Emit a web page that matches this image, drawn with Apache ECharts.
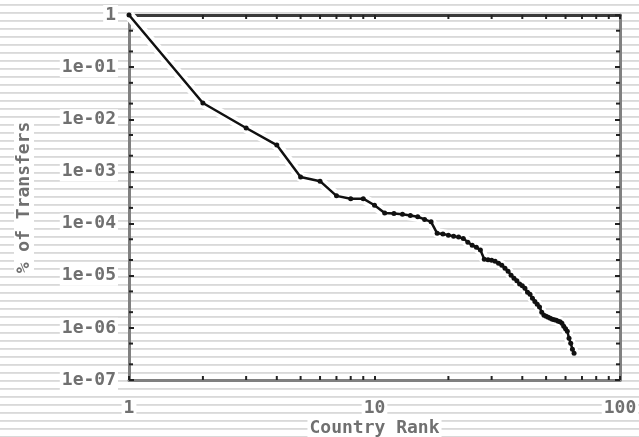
<!DOCTYPE html>
<html>
<head>
<meta charset="utf-8">
<script src="https://cdn.jsdelivr.net/npm/echarts@6/dist/echarts.min.js"></script>
<style>
  html, body { margin: 0; padding: 0; }
  body {
    background: repeating-linear-gradient(to bottom,
      #ffffff 0px, #ffffff 4px, #d6d6d6 4px, #e2e2e2 6px, #ffffff 6px, #ffffff 8px);
  }
  #chart { width: 639px; height: 437px; }
</style>
</head>
<body>
<div id="chart"></div>
<script>
// country rank vs share of transfers
var ranks = [];
for (var i = 1; i <= 65; i++) ranks.push(i);

var transfers = [
  1, 2.05e-2, 6.8e-3, 3.2e-3, 7.8e-4, 6.5e-4, 3.4e-4, 3.0e-4, 3.0e-4, 2.25e-4,
  1.6e-4, 1.56e-4, 1.51e-4, 1.43e-4, 1.35e-4, 1.2e-4, 1.08e-4, 6.5e-5, 6.3e-5, 6.0e-5,
  5.7e-5, 5.5e-5, 5.2e-5, 4.4e-5, 3.85e-5, 3.5e-5, 3.1e-5, 2.07e-5, 2.03e-5, 1.99e-5,
  1.9e-5, 1.74e-5, 1.59e-5, 1.39e-5, 1.22e-5, 1.02e-5, 8.95e-6, 8.0e-6, 6.9e-6, 6.4e-6,
  5.75e-6, 4.8e-6, 4.4e-6, 3.7e-6, 3.2e-6, 2.84e-6, 2.5e-6, 1.99e-6, 1.75e-6, 1.67e-6,
  1.6e-6, 1.53e-6, 1.46e-6, 1.43e-6, 1.4e-6, 1.34e-6, 1.31e-6, 1.22e-6, 1.07e-6, 9.6e-7,
  8.6e-7, 6.3e-7, 5.06e-7, 3.9e-7, 3.25e-7
];

// minor ticks (2..9 on x, 2 and 5 per decade on y)
var xMinorTicks = [2, 3, 4, 5, 6, 7, 8, 9, 20, 30, 40, 50, 60, 70, 80, 90];
var yMinorTicks = [5e-1, 2e-1, 5e-2, 2e-2, 5e-3, 2e-3, 5e-4, 2e-4, 5e-5, 2e-5, 5e-6, 2e-6, 5e-7, 2e-7];

var lineData = ranks.map(function (r, i) { return [r, transfers[i]]; });

var fontFamily = "'DejaVu Sans Mono', monospace";
var textColor = '#707070';
var textStyle = { color: textColor, fontFamily: fontFamily, fontSize: 18, fontWeight: 'bold', backgroundColor: '#fff', padding: [1, 2] };

var chart = echarts.init(document.getElementById('chart'));

function yLabel(v) {
  var n = Math.round(-Math.log10(v));
  if (n === 0) return '1';
  return '1e-0' + n;
}

var option = {
  backgroundColor: 'transparent',
  animation: false,
  grid: { left: 129, right: 19, top: 15, bottom: 57, outerBoundsMode: 'none', containLabel: false },
  xAxis: [
    {
      type: 'log', logBase: 10, min: 1, max: 100, splitNumber: 2,
      name: 'Country Rank', nameLocation: 'middle', nameGap: 38, nameMoveOverlap: false,
      nameTextStyle: textStyle,
      axisLine: { lineStyle: { color: '#808080', width: 3 } },
      axisTick: { inside: true, length: 4, lineStyle: { color: '#222', width: 2 } },
      axisLabel: Object.assign({}, textStyle, {
        margin: 18,
        formatter: function (v) { return String(Math.round(v)); }
      }),
      splitLine: { show: false }
    },
    {
      type: 'log', logBase: 10, min: 1, max: 100, splitNumber: 2, position: 'top',
      axisLine: { lineStyle: { color: '#3a3a3a', width: 3 } },
      axisTick: { inside: true, length: 4, lineStyle: { color: '#222', width: 2 } },
      axisLabel: { show: false },
      splitLine: { show: false }
    }
  ],
  yAxis: [
    {
      type: 'log', logBase: 10, min: 1e-7, max: 1, splitNumber: 7,
      name: '% of Transfers', nameLocation: 'middle', nameGap: 95, nameRotate: 90, nameMoveOverlap: false,
      nameTextStyle: textStyle,
      axisLine: { lineStyle: { color: '#808080', width: 3 } },
      axisTick: { inside: true, length: 5, lineStyle: { color: '#222', width: 2 } },
      axisLabel: Object.assign({}, textStyle, { margin: 11, formatter: yLabel }),
      splitLine: { show: false }
    },
    {
      type: 'log', logBase: 10, min: 1e-7, max: 1, splitNumber: 7, position: 'right',
      axisLine: { lineStyle: { color: '#808080', width: 3 } },
      axisTick: { inside: true, length: 5, lineStyle: { color: '#222', width: 2 } },
      axisLabel: { show: false },
      splitLine: { show: false }
    }
  ],
  series: [
    {
      // white halo around the curve
      type: 'line', data: lineData, silent: true,
      showSymbol: false, symbol: 'none',
      lineStyle: { color: '#ffffff', width: 10, opacity: 1 },
      z: 1
    },
    {
      type: 'line', data: lineData,
      symbol: 'circle', symbolSize: 5, showSymbol: true,
      itemStyle: { color: '#111' },
      lineStyle: { color: '#111', width: 2.5 },
      z: 3
    },
    {
      type: 'custom', data: xMinorTicks, clip: false, silent: true, z: 4,
      renderItem: function (params, api) {
        var cs = params.coordSys;
        var x = api.coord([api.value(0), 1])[0];
        return {
          type: 'group',
          children: [
            { type: 'line', shape: { x1: x, y1: cs.y, x2: x, y2: cs.y + 4 }, style: { stroke: '#222', lineWidth: 2 } },
            { type: 'line', shape: { x1: x, y1: cs.y + cs.height - 4, x2: x, y2: cs.y + cs.height }, style: { stroke: '#222', lineWidth: 2 } }
          ]
        };
      }
    },
    {
      type: 'custom', data: yMinorTicks.map(function (v) { return [1, v]; }), clip: false, silent: true, z: 4,
      renderItem: function (params, api) {
        var cs = params.coordSys;
        var y = api.coord([1, api.value(1)])[1];
        return {
          type: 'group',
          children: [
            { type: 'line', shape: { x1: cs.x, y1: y, x2: cs.x + 4, y2: y }, style: { stroke: '#222', lineWidth: 2 } },
            { type: 'line', shape: { x1: cs.x + cs.width - 4, y1: y, x2: cs.x + cs.width, y2: y }, style: { stroke: '#222', lineWidth: 2 } }
          ]
        };
      }
    }
  ]
};

chart.setOption(option);
</script>
</body>
</html>
